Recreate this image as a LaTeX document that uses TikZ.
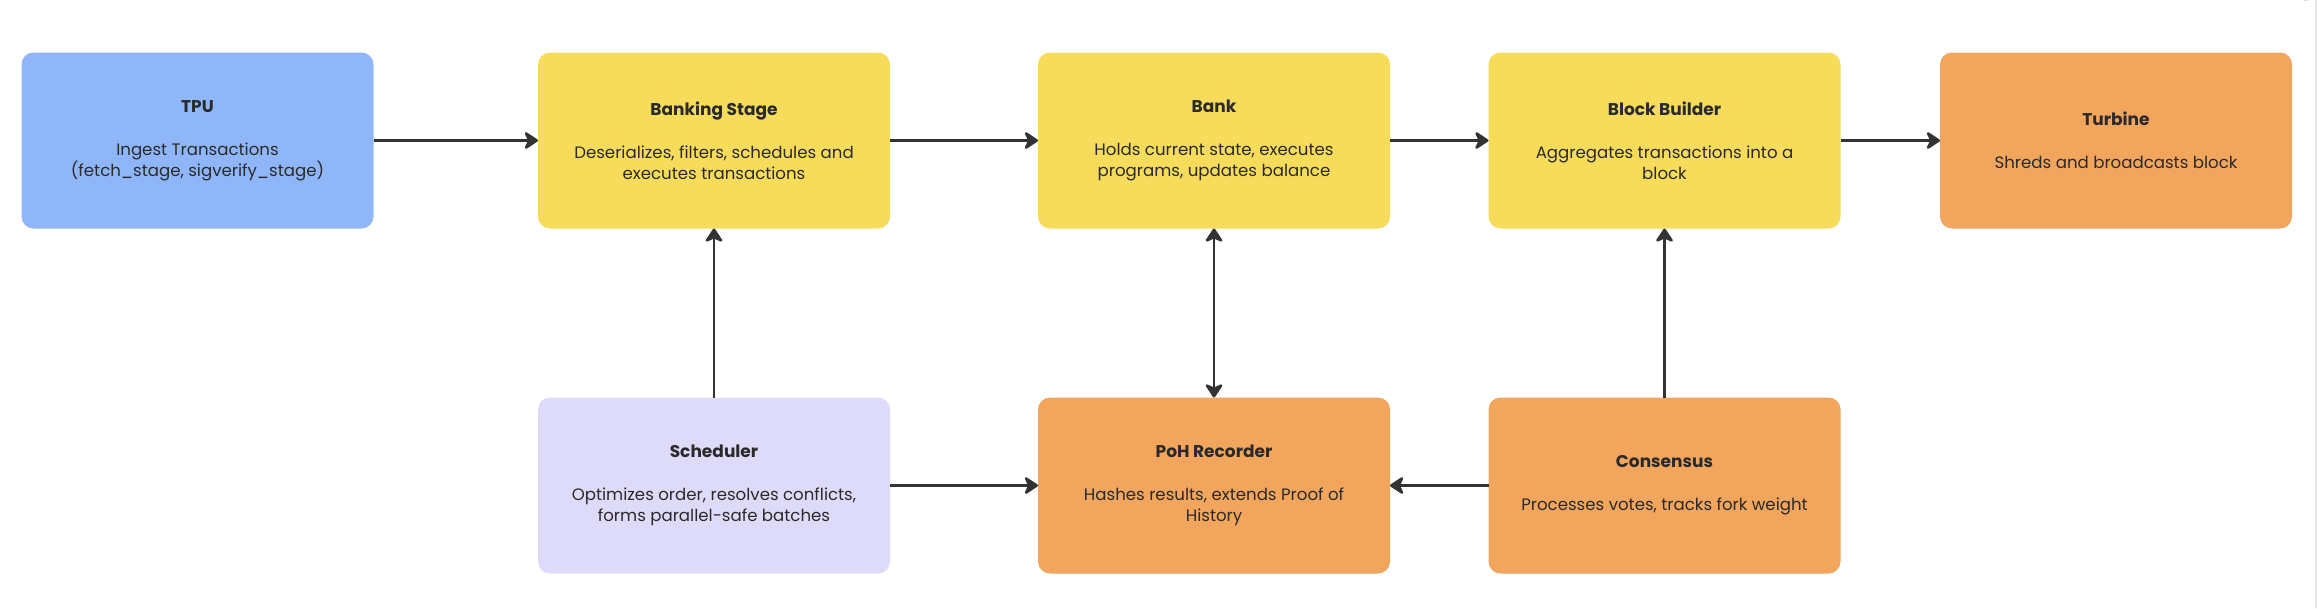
\documentclass[tikz,border=0pt]{standalone}
\usepackage{fontspec}
\setmainfont{Poppins}
\usetikzlibrary{arrows.meta}
\definecolor{cblue}{HTML}{8FB6F9}
\definecolor{cyellow}{HTML}{F7DC5C}
\definecolor{corange}{HTML}{F1A55D}
\definecolor{clav}{HTML}{DEDBFA}
\definecolor{ctext}{HTML}{2A2A2A}
\definecolor{carrow}{HTML}{333333}
\definecolor{cframe}{HTML}{D9D9D9}
\tikzset{
  box/.style={rectangle, rounded corners=12pt, minimum width=352pt, minimum height=176pt,
    inner sep=0pt, outer sep=0pt, align=center, text=ctext,
    font=\fontsize{16.6}{21}\selectfont},
  conn/.style={draw=carrow, line width=2.6pt,
    -{Stealth[length=16pt,width=21pt,inset=5pt,round]}},
  biconn/.style={draw=carrow, line width=2.6pt,
    {Stealth[length=16pt,width=21pt,inset=5pt,round]}-{Stealth[length=16pt,width=21pt,inset=5pt,round]}},
}
\newcommand{\ttl}[1]{{\fontsize{17}{21}\selectfont\bfseries #1}\\[22pt]}
\begin{document}
\begin{tikzpicture}[x=1pt,y=-1pt]
\useasboundingbox (0,0) rectangle (2318,608);
\fill[white] (0,0) rectangle (2318,608);
\coordinate (f1) at (2304,0.5);
\coordinate (f2) at (2316,608);
\draw[cframe, line width=1.2pt] (f1) arc[start angle=90, end angle=0, radius=12] -- (f2);

\node[box, fill=cblue]   (tpu)  at (197.5,140.5) {\ttl{TPU}Ingest Transactions\\(fetch\_stage, sigverify\_stage)};
\node[box, fill=cyellow] (bks)  at (714,140.5)   {\ttl{Banking Stage}Deserializes, filters, schedules and\\executes transactions};
\node[box, fill=cyellow] (bank) at (1214,140.5)  {\ttl{Bank}Holds current state, executes\\programs, updates balance};
\node[box, fill=cyellow] (bb)   at (1664.5,140.5){\ttl{Block Builder}Aggregates transactions into a\\block};
\node[box, fill=corange] (tur)  at (2116,140.5)  {\ttl{Turbine}Shreds and broadcasts block};
\node[box, fill=clav]    (sch)  at (714,485.5)   {\ttl{Scheduler}Optimizes order, resolves conflicts,\\forms parallel-safe batches};
\node[box, fill=corange] (poh)  at (1214,485.5)  {\ttl{PoH Recorder}Hashes results, extends Proof of\\History};
\node[box, fill=corange] (con)  at (1664.5,485.5){\ttl{Consensus}Processes votes, tracks fork weight};

\draw[conn] (tpu.east) -- (bks.west);
\draw[conn] (bks.east) -- (bank.west);
\draw[conn] (bank.east) -- (bb.west);
\draw[conn] (bb.east) -- (tur.west);
\draw[conn] (sch.north) -- (bks.south);
\draw[biconn] (bank.south) -- (poh.north);
\draw[conn] (con.north) -- (bb.south);
\draw[conn] (sch.east) -- (poh.west);
\draw[conn] (con.west) -- (poh.east);
\end{tikzpicture}
\end{document}
